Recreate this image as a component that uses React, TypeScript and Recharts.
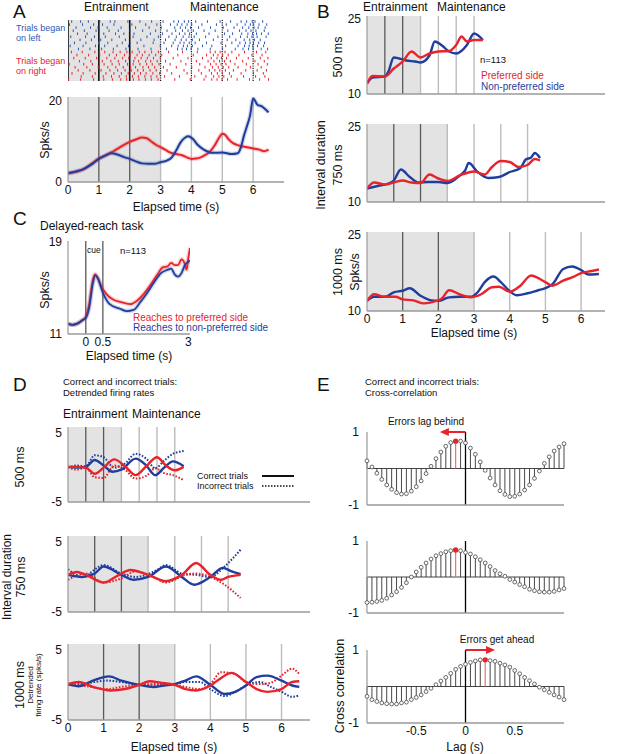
import React from 'react';
import {
  LineChart, Line, XAxis, YAxis, ReferenceArea, ReferenceLine,
  ScatterChart, Scatter, ComposedChart,
} from 'recharts';

const FONT = 'Arial, "Liberation Sans", Helvetica, sans-serif';
const BLUE = '#1f3d9c';
const RED = '#e8232b';
const RBLUE = '#2f58b8';
const SHADE = '#e3e3e3';
const DARK = '#5a5a5a';
const LIGHT = '#bcbcbc';
const AXIS = '#9a9a9a';

// ---- Panel A: raster (spike times per trial, s) ----
const blueRows = [
  [0.12, 0.41, 0.66, 1.03, 1.37, 1.52, 1.94, 2.33, 2.71, 3.08, 3.43, 3.58, 3.77, 3.91, 4.14, 4.52, 4.93, 5.27, 5.61, 5.79, 5.97, 6.06, 6.31],
  [0.05, 0.47, 0.83, 1.12, 1.49, 2.07, 2.52, 2.88, 3.32, 3.54, 3.69, 3.86, 4.01, 4.34, 4.81, 5.13, 5.48, 5.74, 5.91, 6.02, 6.19, 6.44],
  [0.26, 0.73, 0.97, 1.27, 1.72, 2.19, 2.63, 3.02, 3.46, 3.64, 3.81, 3.97, 4.23, 4.62, 5.03, 5.38, 5.66, 5.86, 6.03, 6.16, 6.39],
  [0.17, 0.53, 0.91, 1.33, 1.63, 2.01, 2.42, 2.84, 3.21, 3.49, 3.71, 3.89, 4.06, 4.41, 4.77, 5.18, 5.56, 5.77, 5.93, 6.09, 6.36],
  [0.31, 0.62, 1.16, 1.54, 1.81, 2.14, 2.67, 3.06, 3.37, 3.61, 3.79, 3.94, 4.16, 4.57, 5.07, 5.33, 5.63, 5.83, 5.98, 6.11, 6.27, 6.49],
  [0.09, 0.57, 0.86, 1.21, 1.66, 2.11, 2.56, 2.93, 3.27, 3.51, 3.73, 3.92, 4.09, 4.46, 4.86, 5.24, 5.59, 5.81, 5.96, 6.13, 6.42],
  [0.39, 0.76, 1.06, 1.42, 1.86, 2.36, 2.79, 3.16, 3.47, 3.67, 3.83, 4.03, 4.26, 4.71, 5.16, 5.44, 5.71, 5.89, 6.04, 6.23],
  [0.21, 0.58, 0.99, 1.29, 1.76, 2.24, 2.76, 3.11, 3.41, 3.63, 3.76, 3.93, 4.12, 4.49, 4.96, 5.31, 5.57, 5.75, 5.9, 6.01, 6.18, 6.37],
  [0.07, 0.49, 0.89, 1.19, 1.59, 1.96, 2.46, 2.99, 3.36, 3.57, 3.74, 3.87, 4.03, 4.36, 4.66, 5.11, 5.51, 5.72, 5.87, 5.99, 6.14, 6.34],
  [0.34, 0.71, 1.09, 1.47, 1.88, 2.27, 2.69, 3.19, 3.55, 3.7, 3.84, 3.99, 4.21, 4.61, 5.01, 5.42, 5.67, 5.85, 6.0, 6.26, 6.47],
];
const redRows = [
  [0.11, 0.46, 0.87, 1.19, 1.46, 1.69, 1.91, 2.08, 2.31, 2.49, 2.71, 2.93, 3.26, 3.71, 4.19, 4.61, 4.77, 4.93, 5.09, 5.31, 5.72, 6.11, 6.41],
  [0.29, 0.67, 1.03, 1.34, 1.57, 1.83, 2.01, 2.24, 2.41, 2.63, 2.84, 3.04, 3.56, 4.06, 4.49, 4.71, 4.86, 5.01, 5.19, 5.54, 5.96, 6.29],
  [0.19, 0.56, 0.93, 1.26, 1.52, 1.77, 1.97, 2.17, 2.37, 2.57, 2.77, 2.99, 3.41, 3.89, 4.36, 4.64, 4.83, 4.97, 5.14, 5.46, 5.84, 6.23, 6.48],
  [0.37, 0.74, 1.11, 1.39, 1.63, 1.87, 2.13, 2.29, 2.52, 2.68, 2.89, 3.16, 3.66, 4.16, 4.54, 4.73, 4.91, 5.07, 5.26, 5.66, 6.06, 6.36],
  [0.04, 0.51, 0.79, 1.17, 1.43, 1.66, 1.93, 2.11, 2.33, 2.55, 2.73, 2.95, 3.31, 3.82, 4.27, 4.62, 4.8, 4.96, 5.12, 5.41, 5.78, 6.16, 6.46],
  [0.23, 0.61, 0.98, 1.29, 1.55, 1.79, 2.03, 2.19, 2.43, 2.61, 2.81, 3.09, 3.51, 4.01, 4.44, 4.68, 4.87, 5.03, 5.21, 5.51, 5.91, 6.26],
  [0.33, 0.71, 1.07, 1.36, 1.61, 1.85, 2.05, 2.26, 2.44, 2.66, 2.86, 3.21, 3.76, 4.24, 4.58, 4.76, 4.92, 5.1, 5.36, 5.76, 6.13, 6.43],
  [0.13, 0.49, 0.88, 1.23, 1.49, 1.73, 1.95, 2.15, 2.35, 2.53, 2.75, 2.97, 3.36, 3.86, 4.32, 4.65, 4.84, 5.0, 5.23, 5.61, 6.01, 6.33],
  [0.43, 0.79, 1.14, 1.41, 1.66, 1.89, 2.09, 2.28, 2.49, 2.69, 2.88, 3.13, 3.61, 4.11, 4.47, 4.72, 4.89, 5.05, 5.29, 5.69, 6.08, 6.38],
  [0.02, 0.41, 0.83, 1.16, 1.44, 1.71, 1.9, 2.12, 2.3, 2.51, 2.7, 2.92, 3.46, 3.96, 4.41, 4.66, 4.83, 4.99, 5.17, 5.48, 5.88, 6.21, 6.5],
];

// ---- Panel A: firing rate (Spks/s) ----
const aBlue = [[0, 2.2], [0.25, 2.6], [0.5, 3.2], [0.75, 4.3], [1, 5.7], [1.2, 6.5], [1.4, 7.1], [1.6, 6.8], [1.8, 6.2], [2, 5.7], [2.2, 5.1], [2.4, 4.6], [2.6, 4.5], [2.8, 4.5], [3, 4.9], [3.2, 5.3], [3.35, 6.0], [3.5, 7.7], [3.65, 9.8], [3.8, 11.0], [3.9, 11.3], [4.05, 10.6], [4.2, 9.2], [4.4, 8.0], [4.7, 7.2], [5, 7.3], [5.3, 6.9], [5.5, 7.1], [5.6, 8.5], [5.7, 11.4], [5.8, 13.8], [5.9, 16.4], [6.0, 20.6], [6.05, 20.2], [6.15, 19.0], [6.25, 18.8], [6.35, 18.3], [6.5, 17.2]];
const aRed = [[0, 2.1], [0.25, 2.5], [0.5, 3.1], [0.75, 4.4], [1, 5.8], [1.2, 6.5], [1.4, 7.3], [1.6, 8.2], [1.8, 9.1], [2, 9.9], [2.2, 10.5], [2.4, 11.0], [2.55, 10.8], [2.7, 10.0], [2.85, 9.2], [3, 8.6], [3.15, 8.0], [3.3, 7.3], [3.5, 6.9], [3.7, 6.6], [3.85, 6.1], [4, 5.7], [4.15, 5.8], [4.3, 6.1], [4.45, 6.7], [4.6, 7.5], [4.75, 9.0], [4.9, 11.0], [5.0, 11.9], [5.1, 11.6], [5.2, 10.6], [5.35, 9.6], [5.5, 9.1], [5.8, 8.6], [6, 8.3], [6.2, 8.0], [6.35, 7.6], [6.5, 8.0]];

// ---- Panel B: population rates per interval ----
const b500Blue = [[0, 12.1], [0.15, 13.3], [0.5, 13.5], [0.6, 14.5], [0.75, 17.3], [0.9, 17.1], [1.1, 16.7], [1.35, 16.5], [1.5, 16.3], [1.75, 17.7], [1.9, 20.5], [2.1, 19.7], [2.3, 18.5], [2.5, 18.1], [2.8, 19.8], [3.0, 22.1], [3.1, 21.8], [3.25, 20.8]];
const b500Red = [[0, 12.1], [0.15, 13.6], [0.5, 13.5], [0.75, 15.1], [1.0, 16.5], [1.25, 18.5], [1.5, 17.3], [1.75, 18.1], [2.0, 18.5], [2.3, 18.6], [2.5, 19.8], [2.65, 21.5], [2.8, 20.5], [3.0, 20.8], [3.25, 20.8]];
const b750Blue = [[0, 12.7], [0.3, 13.2], [0.6, 13.7], [0.75, 14.3], [0.95, 16.5], [1.2, 15.0], [1.45, 13.9], [1.7, 14.0], [2.0, 14.0], [2.25, 13.8], [2.6, 15.3], [2.75, 16.3], [2.85, 17.8], [3.1, 16.0], [3.4, 14.8], [3.7, 15.0], [4.0, 16.0], [4.3, 16.8], [4.45, 18.5], [4.6, 18.9], [4.7, 19.8], [4.85, 18.8]];
const b750Red = [[0, 12.7], [0.2, 13.9], [0.5, 13.5], [0.75, 13.9], [1.0, 14.3], [1.25, 13.9], [1.5, 13.8], [1.75, 15.5], [2.0, 14.7], [2.25, 14.2], [2.6, 15.3], [3.0, 16.1], [3.3, 15.5], [3.5, 17.0], [3.75, 18.2], [4.0, 18.0], [4.25, 17.0], [4.5, 17.4], [4.7, 18.6], [4.85, 18.3]];
const b1000Blue = [[0, 12.0], [0.2, 12.8], [0.5, 12.8], [0.75, 13.7], [1.0, 14.0], [1.2, 14.5], [1.5, 13.0], [1.8, 12.1], [2.0, 12.0], [2.3, 12.7], [2.6, 12.8], [2.9, 12.8], [3.1, 13.7], [3.3, 15.7], [3.55, 16.8], [3.75, 15.7], [4.0, 13.9], [4.2, 13.1], [4.5, 13.5], [4.8, 14.1], [5.0, 14.5], [5.2, 15.3], [5.5, 18.3], [5.75, 18.8], [6.0, 18.1], [6.2, 17.2], [6.5, 17.3]];
const b1000Red = [[0, 12.0], [0.2, 13.3], [0.5, 12.8], [0.8, 12.8], [1.0, 12.3], [1.3, 12.1], [1.6, 11.5], [1.9, 11.9], [2.1, 12.5], [2.3, 14.1], [2.6, 13.3], [2.9, 12.7], [3.2, 13.3], [3.5, 14.7], [3.7, 14.8], [4.0, 13.8], [4.3, 15.0], [4.6, 17.0], [4.8, 16.5], [5.0, 15.7], [5.2, 15.0], [5.5, 16.0], [5.8, 16.8], [6.0, 17.5], [6.3, 17.9], [6.5, 18.2]];

// ---- Panel C: delayed-reach task ----
const cRed = [[-0.52, 11.9], [-0.4, 11.8], [-0.25, 11.9], [-0.1, 12.2], [0, 12.5], [0.1, 13.6], [0.2, 15.6], [0.27, 16.2], [0.35, 15.9], [0.45, 15.2], [0.6, 14.5], [0.8, 14.0], [1.0, 13.8], [1.3, 13.6], [1.5, 13.9], [1.7, 14.5], [1.9, 15.3], [2.1, 16.2], [2.25, 16.8], [2.4, 16.9], [2.5, 17.2], [2.6, 17.0], [2.7, 17.0], [2.8, 17.5], [2.9, 17.1], [2.95, 16.6], [3.0, 17.6], [3.05, 18.5]];
const cBlue = [[-0.52, 11.9], [-0.4, 11.8], [-0.25, 11.9], [-0.1, 12.2], [0, 12.4], [0.1, 13.3], [0.2, 15.3], [0.28, 16.1], [0.36, 15.8], [0.5, 14.6], [0.7, 13.6], [1.0, 13.2], [1.2, 13.0], [1.4, 13.1], [1.6, 13.8], [1.8, 14.6], [2.0, 15.5], [2.2, 16.3], [2.4, 16.6], [2.5, 16.7], [2.6, 16.2], [2.7, 16.0], [2.8, 16.3], [2.9, 17.0], [3.0, 17.3], [3.05, 17.4]];

// ---- Panel D: detrended rates (correct solid, incorrect dotted) ----
const d500BlueC = [[0, 0.1], [0.25, 0], [0.5, 0.1], [0.75, 1.1], [1.0, 0.3], [1.25, -0.6], [1.5, -0.3], [1.9, 1.3], [2.2, 0.3], [2.45, -1.1], [2.7, 0], [2.95, 0.9], [3.25, 0.2]];
const d500RedC = [[0, 0.1], [0.25, 0.1], [0.5, 0], [0.75, -0.9], [1.0, 0], [1.3, 1.2], [1.6, 0.2], [1.9, -1.1], [2.2, 0.2], [2.5, 1.5], [2.75, 0.3], [3.0, -0.4], [3.25, 0.1]];
const d500BlueI = [[0, 0], [0.25, 0.3], [0.5, 0.2], [0.75, 1.8], [1.0, 1.5], [1.3, 0], [1.6, 0.6], [1.9, 2.0], [2.2, 1.3], [2.45, -0.1], [2.7, 1.0], [2.95, 2.0], [3.25, 2.4]];
const d500RedI = [[0, 0], [0.25, -0.3], [0.5, 0], [0.75, -1.4], [1.0, -1.5], [1.3, 0.3], [1.6, -0.3], [1.9, -1.6], [2.2, -1.2], [2.45, -0.1], [2.7, -0.8], [2.95, -1.1], [3.25, -1.8]];
const d750BlueC = [[0, 0.3], [0.4, 0], [0.75, 0.5], [1.0, 1.5], [1.5, 0.3], [1.85, -0.4], [2.25, 0], [2.75, 1.5], [3.2, 0], [3.55, -1.1], [4.0, 0], [4.35, 1.3], [4.6, 0.8], [4.85, 0.4]];
const d750RedC = [[0, 0.3], [0.25, 0.7], [0.5, 0.3], [1.0, -0.8], [1.4, 0.2], [1.75, 1.0], [2.25, 0.3], [2.75, -0.6], [3.2, 0.3], [3.6, 2.0], [4.0, 0.3], [4.3, -0.4], [4.5, 0], [4.85, 0.3]];
const d750BlueI = [[0, 1.1], [0.4, 0], [1.0, 1.7], [1.5, 0.5], [1.9, 0], [2.5, 1.0], [2.75, 1.7], [3.2, 0.5], [3.6, 0.3], [4.0, 0], [4.4, 1.5], [4.85, 3.9]];
const d750RedI = [[0, -0.4], [0.5, 0.5], [1.0, -0.8], [1.5, -0.2], [1.9, 0.8], [2.4, 0], [2.75, -0.8], [3.3, 0.3], [3.6, 0.5], [4.0, 0], [4.4, -1.1], [4.85, -3.0]];
const d1000BlueC = [[0, 0.1], [0.3, -0.2], [0.7, 0.6], [1.15, 1.2], [1.5, 0.6], [2.0, 0], [2.4, -0.3], [2.7, -0.1], [3.0, 0.1], [3.3, 0.6], [3.6, 1.2], [4.0, 0], [4.4, -1.3], [4.7, -1.0], [5.0, -0.1], [5.3, 1.1], [5.6, 1.3], [6.0, 0.6], [6.3, -0.1], [6.5, -0.3]];
const d1000RedC = [[0, 0.1], [0.3, 0.4], [0.7, -0.3], [1.2, -0.8], [1.6, -0.6], [2.0, 0], [2.3, 0.5], [2.6, 0.3], [3.0, 0], [3.3, -0.6], [3.6, -0.8], [4.0, -0.1], [4.2, 0.6], [4.6, 1.7], [5.0, 0.4], [5.3, -0.6], [5.6, -1.0], [6.0, -0.6], [6.3, 0.4], [6.5, 0.5]];
const d1000BlueI = [[0, 0], [0.5, 0.2], [1.1, 0.6], [1.5, 0.4], [2.0, 0], [2.6, 0.1], [3.0, 0.1], [3.3, 0.4], [3.7, 0.4], [4.0, -0.6], [4.4, -1.6], [4.7, -1.0], [5.0, -0.1], [5.4, 0.4], [5.7, -0.3], [6.0, -1.0], [6.3, -1.7], [6.5, -1.5]];
const d1000RedI = [[0, 0], [0.5, -0.2], [1.1, -0.6], [1.5, -0.3], [2.0, 0], [2.6, 0], [3.0, 0], [3.3, -0.3], [3.7, -0.6], [4.0, 0.1], [4.3, 1.8], [4.7, 1.5], [5.0, 0.4], [5.4, 0.1], [5.7, 0.3], [6.0, 1.3], [6.3, 2.3], [6.5, 1.5]];

// ---- Panel E: cross-correlation ----
const lags = [-1, -0.95, -0.9, -0.85, -0.8, -0.75, -0.7, -0.65, -0.6, -0.55, -0.5, -0.45, -0.4, -0.35, -0.3, -0.25, -0.2, -0.15, -0.1, -0.05, 0, 0.05, 0.1, 0.15, 0.2, 0.25, 0.3, 0.35, 0.4, 0.45, 0.5, 0.55, 0.6, 0.65, 0.7, 0.75, 0.8, 0.85, 0.9, 0.95, 1];
const xc500 = [0.21, 0.04, -0.13, -0.3, -0.45, -0.57, -0.66, -0.7, -0.69, -0.62, -0.5, -0.34, -0.14, 0.06, 0.27, 0.45, 0.61, 0.71, 0.75, 0.75, 0.7, 0.56, 0.39, 0.18, -0.05, -0.26, -0.45, -0.61, -0.71, -0.77, -0.76, -0.7, -0.59, -0.45, -0.27, -0.07, 0.14, 0.32, 0.48, 0.59, 0.68];
const xc750 = [-0.71, -0.7, -0.68, -0.65, -0.59, -0.5, -0.41, -0.29, -0.16, 0.0, 0.14, 0.27, 0.39, 0.5, 0.59, 0.65, 0.7, 0.73, 0.75, 0.73, 0.68, 0.64, 0.56, 0.48, 0.39, 0.29, 0.18, 0.09, 0.02, -0.07, -0.14, -0.21, -0.27, -0.34, -0.38, -0.41, -0.42, -0.42, -0.4, -0.36, -0.32];
const xc1000 = [-0.27, -0.36, -0.41, -0.45, -0.47, -0.48, -0.48, -0.45, -0.43, -0.36, -0.3, -0.23, -0.14, -0.05, 0.05, 0.15, 0.25, 0.36, 0.47, 0.55, 0.61, 0.66, 0.7, 0.73, 0.73, 0.71, 0.69, 0.64, 0.59, 0.53, 0.44, 0.35, 0.25, 0.16, 0.07, -0.02, -0.09, -0.16, -0.23, -0.29, -0.36];

const secTicks = [0, 1, 2, 3, 4, 5, 6];

const pts = (arr: number[][]) => arr.map(([t, v]) => ({ t, v }));

type Box = { x: number; y: number; w: number; h: number };
const PL = 36, PT = 6, PR = 8, PB = 20;

const tickStyle = { fontSize: 12, fill: '#111', fontFamily: FONT };

function T({ x, y, size = 12, color = '#111', mid = false, children }: any) {
  return (
    <div style={{
      position: 'absolute', left: x, top: y, fontSize: size, color, whiteSpace: 'pre',
      lineHeight: 1.12, transform: mid ? 'translate(-50%,-50%)' : 'translateY(-50%)',
    }}>{children}</div>
  );
}

function VT({ x, y, size = 12.5, color = '#111', children }: any) {
  return (
    <div style={{
      position: 'absolute', left: x, top: y, fontSize: size, color, whiteSpace: 'nowrap',
      lineHeight: 1, transform: 'translate(-50%,-50%) rotate(-90deg)',
    }}>{children}</div>
  );
}

type Series = { data: number[][]; color: string; dotted?: boolean; band?: boolean; width?: number };

function TimePlot({ box, xDomain, yDomain, xTicks, yTicks, showX, shade, dark = [], light = [], series }: {
  box: Box; xDomain: number[]; yDomain: number[]; xTicks: number[]; yTicks: number[]; showX: boolean;
  shade?: number[]; dark?: number[]; light?: number[]; series: Series[];
}) {
  return (
    <div style={{ position: 'absolute', left: box.x - PL, top: box.y - PT }}>
      <LineChart width={box.w + PL + PR} height={box.h + PT + PB} margin={{ top: PT, right: PR, left: 0, bottom: 0 }}>
        <XAxis type="number" dataKey="t" domain={xDomain} ticks={xTicks} interval={0} allowDataOverflow
          height={PB} tickLine={false} tickSize={1} tick={showX ? tickStyle : false}
          axisLine={{ stroke: AXIS, strokeWidth: 1.5 }} />
        <YAxis type="number" domain={yDomain} ticks={yTicks} interval={0} allowDataOverflow
          width={PL} tickLine={false} tickSize={4} tick={tickStyle} axisLine={{ stroke: AXIS, strokeWidth: 1.2 }} />
        {shade && <ReferenceArea x1={shade[0]} x2={shade[1]} fill={SHADE} fillOpacity={1} stroke="none" />}
        {light.map((x) => <ReferenceLine key={'l' + x} x={x} stroke={LIGHT} strokeWidth={1.4} />)}
        {dark.map((x) => <ReferenceLine key={'d' + x} x={x} stroke={DARK} strokeWidth={1.3} />)}
        {series.filter((s) => s.band).map((s, i) => (
          <Line key={'b' + i} data={pts(s.data)} dataKey="v" type="monotone" stroke={s.color} strokeOpacity={0.2}
            strokeWidth={4.5} dot={false} activeDot={false} isAnimationActive={false} />
        ))}
        {series.map((s, i) => (
          <Line key={'s' + i} data={pts(s.data)} dataKey="v" type="monotone" stroke={s.color}
            strokeWidth={s.width ?? 2.4} strokeDasharray={s.dotted ? '1.6 1.6' : undefined}
            dot={false} activeDot={false} isAnimationActive={false} />
        ))}
      </LineChart>
    </div>
  );
}

function Raster({ box }: { box: Box }) {
  const blue = blueRows.flatMap((row, r) => row.map((t) => ({ t, row: r })));
  const red = redRows.flatMap((row, r) => row.map((t) => ({ t, row: r + blueRows.length })));
  const tick = (color: string) => (p: any) => (
    <line x1={p.cx} x2={p.cx} y1={p.cy - 1.3} y2={p.cy + 1.3} stroke={color} strokeWidth={1} />
  );
  return (
    <div style={{ position: 'absolute', left: box.x, top: box.y }}>
      <ScatterChart width={box.w} height={box.h} margin={{ top: 0, right: 0, left: 0, bottom: 0 }}>
        <XAxis type="number" dataKey="t" domain={[0, 7]} hide />
        <YAxis type="number" dataKey="row" domain={[-0.5, 19.5]} reversed hide />
        <ReferenceArea x1={0} x2={3} fill={SHADE} fillOpacity={1} stroke="none" />
        <Scatter data={blue} shape={tick(RBLUE)} isAnimationActive={false} />
        <Scatter data={red} shape={tick(RED)} isAnimationActive={false} />
        {[0, 1, 2].map((x) => <ReferenceLine key={x} x={x} stroke="#111" strokeWidth={1.6} />)}
        {[3, 4, 5, 6].map((x) => <ReferenceLine key={x} x={x} stroke="#111" strokeWidth={1.2} strokeDasharray="1.2 1.2" />)}
      </ScatterChart>
    </div>
  );
}

function Arrow(p: any) {
  const dir = p.x2 > p.x1 ? 1 : -1;
  return (
    <g>
      <line x1={p.x1} y1={p.y1} x2={p.x2 - dir * 6} y2={p.y2} stroke={RED} strokeWidth={2} />
      <polygon points={`${p.x2},${p.y2} ${p.x2 - dir * 9},${p.y2 - 4} ${p.x2 - dir * 9},${p.y2 + 4}`} fill={RED} />
    </g>
  );
}

function StemPlot({ box, values, peak, showX, arrowTo }: {
  box: Box; values: number[]; peak: number; showX: boolean; arrowTo?: number;
}) {
  const data = lags.map((lag, i) => ({ lag, r: values[i] }));
  const others = data.filter((_, i) => i !== peak);
  const circle = (p: any) => <circle cx={p.cx} cy={p.cy} r={1.9} fill="#fff" stroke="#444" strokeWidth={0.8} />;
  const dotRed = (p: any) => <circle cx={p.cx} cy={p.cy} r={2.7} fill={RED} />;
  return (
    <div style={{ position: 'absolute', left: box.x - PL, top: box.y - PT }}>
      <ComposedChart width={box.w + PL + PR} height={box.h + PT + PB} margin={{ top: PT, right: PR, left: 0, bottom: 0 }}>
        <XAxis type="number" dataKey="lag" domain={[-1, 1]} ticks={[-0.5, 0, 0.5]} interval={0}
          height={PB} tickLine={false} tickSize={1} tick={showX ? tickStyle : false}
          axisLine={{ stroke: AXIS, strokeWidth: 1.5 }} />
        <YAxis type="number" dataKey="r" domain={[-1, 1]} ticks={[-1, 1]} interval={0}
          width={PL} tickLine={false} tickSize={6} tick={tickStyle} axisLine={{ stroke: AXIS, strokeWidth: 1.2 }} />
        <ReferenceLine y={0} stroke="#444" strokeWidth={1} />
        {data.map((d, i) => (
          <ReferenceLine key={i} segment={[{ x: d.lag, y: 0 }, { x: d.lag, y: d.r }]}
            stroke={i === peak ? '#f07070' : '#333'} strokeWidth={i === peak ? 1.2 : 0.9} />
        ))}
        <ReferenceLine x={0} stroke="#000" strokeWidth={1.3} />
        <Scatter data={others} dataKey="r" shape={circle} isAnimationActive={false} />
        <Scatter data={[data[peak]]} dataKey="r" shape={dotRed} isAnimationActive={false} />
        {arrowTo !== undefined && (
          <ReferenceLine segment={[{ x: 0, y: 1 }, { x: arrowTo, y: 1 }]} ifOverflow="visible" shape={Arrow} />
        )}
      </ComposedChart>
    </div>
  );
}

const boxes = {
  raster: { x: 68, y: 20, w: 216, h: 61 },
  rate: { x: 68, y: 97, w: 216, h: 85 },
  b1: { x: 367, y: 16, w: 238, h: 78 },
  b2: { x: 367, y: 124, w: 238, h: 78 },
  b3: { x: 367, y: 232, w: 238, h: 79 },
  c: { x: 68, y: 241, w: 122, h: 93 },
  d1: { x: 68, y: 427, w: 242, h: 75 },
  d2: { x: 68, y: 536, w: 242, h: 76 },
  d3: { x: 68, y: 644, w: 242, h: 76 },
  e1: { x: 367, y: 432, w: 197, h: 73 },
  e2: { x: 367, y: 541, w: 197, h: 72 },
  e3: { x: 367, y: 650, w: 197, h: 73 },
};

export default function App() {
  const bDom = [0, 6.67];
  const dDom = [0, 6.8];
  return (
    <div style={{ position: 'relative', width: 617, height: 754, background: '#fff', fontFamily: FONT, overflow: 'hidden', color: '#111' }}>
      <style>{'body{margin:0}'}</style>

      {/* A */}
      <Raster box={boxes.raster} />
      <TimePlot box={boxes.rate} xDomain={[0, 7]} yDomain={[0, 21]} xTicks={secTicks} yTicks={[0, 20]} showX
        shade={[0, 3]} dark={[1, 2]} light={[3, 4, 5, 6]}
        series={[{ data: aRed, color: RED, band: true, width: 2 }, { data: aBlue, color: BLUE, band: true, width: 2 }]} />

      {/* B */}
      <TimePlot box={boxes.b1} xDomain={bDom} yDomain={[10, 25.6]} xTicks={secTicks} yTicks={[10, 25]} showX={false}
        shade={[0, 1.5]} dark={[0.5, 1]} light={[1.5, 2, 2.5, 3]}
        series={[{ data: b500Blue, color: BLUE }, { data: b500Red, color: RED }]} />
      <TimePlot box={boxes.b2} xDomain={bDom} yDomain={[10, 25.6]} xTicks={secTicks} yTicks={[10, 25]} showX={false}
        shade={[0, 2.25]} dark={[0.75, 1.5]} light={[2.25, 3, 3.75, 4.5]}
        series={[{ data: b750Blue, color: BLUE }, { data: b750Red, color: RED }]} />
      <TimePlot box={boxes.b3} xDomain={bDom} yDomain={[10, 25.6]} xTicks={secTicks} yTicks={[10, 25]} showX
        shade={[0, 3]} dark={[1, 2]} light={[3, 4, 5, 6]}
        series={[{ data: b1000Blue, color: BLUE }, { data: b1000Red, color: RED }]} />

      {/* C */}
      <TimePlot box={boxes.c} xDomain={[-0.52, 3.05]} yDomain={[11, 19.1]} xTicks={[0, 0.5, 3]} yTicks={[11, 19]} showX
        dark={[0, 0.5]}
        series={[{ data: cRed, color: RED, band: true, width: 1.8 }, { data: cBlue, color: BLUE, band: true, width: 1.8 }]} />

      {/* D */}
      <TimePlot box={boxes.d1} xDomain={dDom} yDomain={[-5, 5.9]} xTicks={secTicks} yTicks={[-5, 5]} showX={false}
        shade={[0, 1.5]} dark={[0.5, 1]} light={[1.5, 2, 2.5, 3]}
        series={[{ data: d500BlueI, color: BLUE, dotted: true, width: 2 }, { data: d500RedI, color: RED, dotted: true, width: 2 },
          { data: d500BlueC, color: BLUE }, { data: d500RedC, color: RED }]} />
      <TimePlot box={boxes.d2} xDomain={dDom} yDomain={[-5, 5.85]} xTicks={secTicks} yTicks={[-5, 5]} showX={false}
        shade={[0, 2.25]} dark={[0.75, 1.5]} light={[2.25, 3, 3.75, 4.5]}
        series={[{ data: d750BlueI, color: BLUE, dotted: true, width: 2 }, { data: d750RedI, color: RED, dotted: true, width: 2 },
          { data: d750BlueC, color: BLUE }, { data: d750RedC, color: RED }]} />
      <TimePlot box={boxes.d3} xDomain={dDom} yDomain={[-5, 5.8]} xTicks={secTicks} yTicks={[-5, 5]} showX
        shade={[0, 3]} dark={[1, 2]} light={[3, 4, 5, 6]}
        series={[{ data: d1000BlueI, color: BLUE, dotted: true, width: 2 }, { data: d1000RedI, color: RED, dotted: true, width: 2 },
          { data: d1000BlueC, color: BLUE }, { data: d1000RedC, color: RED }]} />

      {/* E */}
      <StemPlot box={boxes.e1} values={xc500} peak={18} showX={false} arrowTo={-0.26} />
      <StemPlot box={boxes.e2} values={xc750} peak={18} showX={false} />
      <StemPlot box={boxes.e3} values={xc1000} peak={24} showX arrowTo={0.3} />

      {/* Text: A */}
      <T x={13} y={12} size={19}>A</T>
      <T x={84} y={8} size={12}>Entrainment</T>
      <T x={190} y={8} size={12}>Maintenance</T>
      <T x={16} y={33} size={9} color={RBLUE}>{'Trials began\non left'}</T>
      <T x={16} y={66} size={9} color={RED}>{'Trials began\non right'}</T>
      <VT x={45} y={140}>Spks/s</VT>
      <T x={176} y={208} size={12} mid>Elapsed time (s)</T>

      {/* Text: B */}
      <T x={317} y={12} size={19}>B</T>
      <T x={363} y={8} size={12}>Entrainment</T>
      <T x={437} y={8} size={12}>Maintenance</T>
      <T x={480} y={60} size={9.5}>n=113</T>
      <T x={481} y={76} size={10} color={RED}>Preferred side</T>
      <T x={481} y={87} size={10} color={BLUE}>Non-preferred side</T>
      <VT x={338} y={57}>500 ms</VT>
      <VT x={321} y={165}>Interval duration</VT>
      <VT x={338} y={165}>750 ms</VT>
      <VT x={338} y={272}>1000 ms</VT>
      <VT x={355} y={272}>Spks/s</VT>
      <T x={474} y={334} size={12} mid>Elapsed time (s)</T>

      {/* Text: C */}
      <T x={13} y={219} size={19}>C</T>
      <T x={40} y={227} size={12}>Delayed-reach task</T>
      <T x={87} y={251} size={8.5}>cue</T>
      <T x={120} y={251} size={9.5}>n=113</T>
      <T x={133} y={318} size={10} color={RED}>Reaches to preferred side</T>
      <T x={133} y={328} size={10} color={BLUE}>Reaches to non-preferred side</T>
      <VT x={45} y={290}>Spks/s</VT>
      <T x={129} y={357} size={12} mid>Elapsed time (s)</T>

      {/* Text: D */}
      <T x={13} y={385} size={19}>D</T>
      <T x={63} y={382} size={9.5}>Correct and incorrect trials:</T>
      <T x={63} y={393} size={9.5}>Detrended firing rates</T>
      <T x={63} y={415} size={12}>Entrainment</T>
      <T x={132} y={415} size={12}>Maintenance</T>
      <T x={197} y={476} size={9}>Correct trials</T>
      <T x={197} y={486} size={9}>Incorrect trials</T>
      <svg style={{ position: 'absolute', left: 260, top: 471 }} width={36} height={20}>
        <line x1={2} x2={34} y1={5} y2={5} stroke="#111" strokeWidth={2} />
        <line x1={2} x2={34} y1={15} y2={15} stroke="#111" strokeWidth={1.6} strokeDasharray="1.5 1.5" />
      </svg>
      <VT x={20} y={467}>500 ms</VT>
      <VT x={7} y={577} size={12}>Interval duration</VT>
      <VT x={21} y={577}>750 ms</VT>
      <VT x={20} y={685}>1000 ms</VT>
      <VT x={31} y={685} size={8}>Detrended</VT>
      <VT x={39} y={685} size={8}>firing rate (spks/s)</VT>
      <T x={174} y={748} size={12} mid>Elapsed time (s)</T>

      {/* Text: E */}
      <T x={317} y={385} size={19}>E</T>
      <T x={365} y={382} size={9.5}>Correct and incorrect trials:</T>
      <T x={365} y={393} size={9.5}>Cross-correlation</T>
      <T x={426} y={422} size={10} mid>Errors lag behind</T>
      <T x={497} y={640} size={10} mid>Errors get ahead</T>
      <VT x={340} y={686}>Cross correlation</VT>
      <T x={465} y={748} size={12} mid>Lag (s)</T>
    </div>
  );
}
